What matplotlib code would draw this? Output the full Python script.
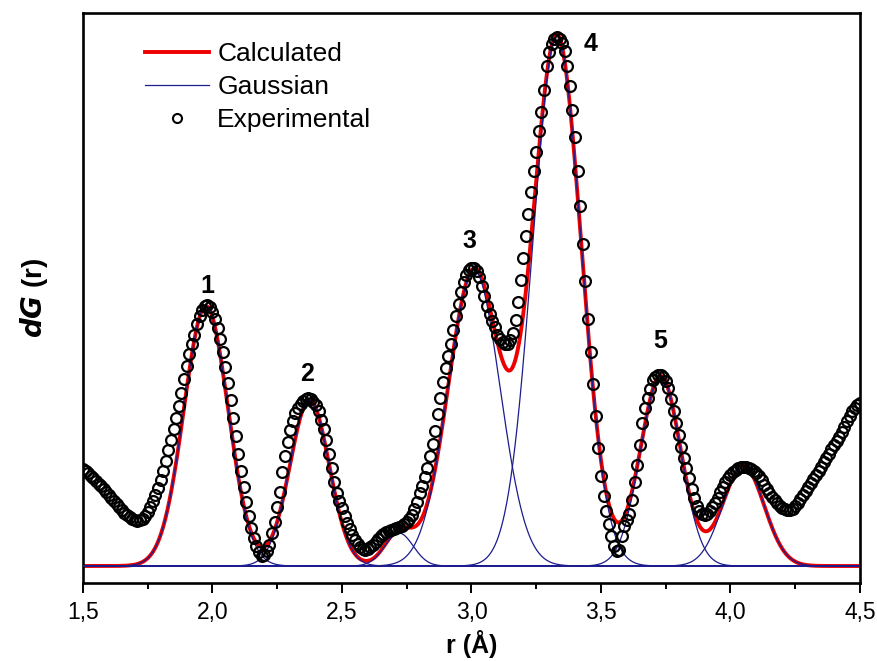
import numpy as np
import matplotlib.pyplot as plt
from matplotlib.ticker import MultipleLocator, FuncFormatter
from matplotlib.lines import Line2D

plt.rcParams['font.family'] = ['Liberation Sans', 'DejaVu Sans']

# Experimental dG(r), one value every 0.01 A from 1.50 to 4.50
exp_vals = [
    0.97, 0.95, 0.93, 0.90, 0.88, 0.85, 0.82, 0.80, 0.77, 0.74,
    0.71, 0.68, 0.65, 0.62, 0.59, 0.56, 0.53, 0.51, 0.49, 0.47,
    0.46, 0.45, 0.46, 0.47, 0.50, 0.54, 0.59, 0.65, 0.71, 0.78,
    0.86, 0.95, 1.05, 1.16, 1.26, 1.37, 1.48, 1.60, 1.73, 1.87,
    2.00, 2.12, 2.22, 2.31, 2.42, 2.50, 2.56, 2.60, 2.61, 2.59,
    2.54, 2.47, 2.38, 2.27, 2.14, 1.99, 1.83, 1.66, 1.48, 1.30,
    1.12, 0.95, 0.79, 0.64, 0.50, 0.38, 0.28, 0.20, 0.14, 0.10,
    0.11, 0.15, 0.21, 0.33, 0.44, 0.59, 0.74, 0.94, 1.10, 1.24,
    1.36, 1.45, 1.53, 1.58, 1.62, 1.65, 1.67, 1.68, 1.67, 1.64,
    1.61, 1.55, 1.46, 1.37, 1.26, 1.12, 0.98, 0.84, 0.73, 0.65,
    0.58, 0.50, 0.43, 0.37, 0.31, 0.26, 0.22, 0.19, 0.17, 0.16,
    0.17, 0.19, 0.21, 0.24, 0.27, 0.30, 0.32, 0.34, 0.35, 0.36,
    0.37, 0.38, 0.39, 0.40, 0.42, 0.44, 0.47, 0.51, 0.57, 0.64,
    0.73, 0.80, 0.89, 0.98, 1.10, 1.22, 1.35, 1.52, 1.68, 1.84,
    1.98, 2.10, 2.22, 2.36, 2.50, 2.62, 2.74, 2.84, 2.91, 2.96,
    2.98, 2.98, 2.95, 2.89, 2.80, 2.70, 2.60, 2.52, 2.45, 2.39,
    2.31, 2.27, 2.24, 2.22, 2.22, 2.26, 2.33, 2.46, 2.64, 2.86,
    3.08, 3.30, 3.52, 3.74, 3.95, 4.14, 4.35, 4.54, 4.76, 5.00,
    5.14, 5.22, 5.27, 5.29, 5.27, 5.23, 5.15, 5.00, 4.80, 4.56,
    4.29, 3.95, 3.60, 3.22, 2.85, 2.47, 2.14, 1.82, 1.50, 1.18,
    0.90, 0.70, 0.55, 0.42, 0.30, 0.20, 0.15, 0.16, 0.30, 0.40,
    0.46, 0.52, 0.66, 0.84, 1.01, 1.21, 1.43, 1.58, 1.68, 1.77,
    1.86, 1.89, 1.91, 1.91, 1.89, 1.85, 1.78, 1.67, 1.55, 1.43,
    1.31, 1.19, 1.08, 0.98, 0.88, 0.77, 0.68, 0.60, 0.55, 0.52,
    0.51, 0.52, 0.55, 0.59, 0.63, 0.68, 0.74, 0.79, 0.84, 0.88,
    0.91, 0.94, 0.96, 0.98, 0.99, 0.99, 0.99, 0.98, 0.97, 0.95,
    0.93, 0.90, 0.86, 0.81, 0.77, 0.73, 0.69, 0.66, 0.63, 0.60,
    0.58, 0.57, 0.56, 0.56, 0.57, 0.60, 0.63, 0.67, 0.71, 0.75,
    0.79, 0.83, 0.87, 0.91, 0.95, 0.99, 1.04, 1.08, 1.12, 1.17,
    1.21, 1.25, 1.29, 1.34, 1.39, 1.45, 1.50, 1.55, 1.58, 1.61,
    1.63,
]
r_exp = np.linspace(1.5, 4.5, len(exp_vals))

# Gaussian components of the fit (centre, height, width)
g_center = [1.975, 2.375, 2.72, 3.01, 3.33, 3.73, 4.05]
g_height = [2.60, 1.66, 0.33, 2.96, 5.30, 1.90, 1.00]
g_sigma = [0.085, 0.076, 0.055, 0.10, 0.094, 0.078, 0.08]

# peak labels
peak_names = ['1', '2', '3', '4', '5']
peak_x = [1.979, 2.365, 2.994, 3.458, 3.728]
peak_y = [2.80, 1.92, 3.25, 5.22, 2.25]

r = np.linspace(1.5, 4.5, 1501)
gauss = [h * np.exp(-(r - c) ** 2 / (2 * s ** 2))
         for c, h, s in zip(g_center, g_height, g_sigma)]
calc = np.sum(gauss, axis=0)

red = '#ee0000'
navy = '#1c1c8f'

fig = plt.figure(figsize=(8.77, 6.61), dpi=100)
ax = fig.add_axes([0.0946, 0.118, 0.8860, 0.8623])

ax.plot(r, calc, color=red, lw=2.8, zorder=2)
for g in gauss:
    ax.plot(r, g, color=navy, lw=0.9, zorder=3)
ax.plot(r_exp, exp_vals, 'o', mfc='none', mec='black', ms=7.8, mew=1.6, zorder=4)

for name, x, y in zip(peak_names, peak_x, peak_y):
    ax.text(x, y, name, fontsize=18, fontweight='bold', ha='center', va='center')

ax.set_xlim(1.5, 4.5)
ax.set_ylim(-0.17, 5.53)
ax.xaxis.set_major_locator(MultipleLocator(0.5))
ax.xaxis.set_minor_locator(MultipleLocator(0.25))
ax.xaxis.set_major_formatter(FuncFormatter(lambda v, p: ('%.1f' % v).replace('.', ',')))
ax.set_yticks([])
ax.tick_params(axis='x', which='major', direction='out', length=7, width=1.4,
               labelsize=16.5, pad=6)
ax.tick_params(axis='x', which='minor', direction='out', length=4.5, width=1.4)
for sp in ax.spines.values():
    sp.set_linewidth(1.9)

ax.set_xlabel('r (Å)', fontsize=18, fontweight='bold', labelpad=4)
ax.set_ylabel(r'$\mathbfit{dG}$ (r)', fontsize=20, fontweight='bold', labelpad=24)

handles = [Line2D([], [], color=red, lw=2.8),
           Line2D([], [], color=navy, lw=0.9),
           Line2D([], [], ls='none', marker='o', mfc='none', mec='black', ms=6.5, mew=1.5)]
ax.legend(handles, ['Calculated', 'Gaussian', 'Experimental'], loc='upper left',
          bbox_to_anchor=(0.049, 0.99), frameon=False, fontsize=19,
          handlelength=2.45, handletextpad=0.3, labelspacing=0.34)

fig.savefig('out.png', dpi=100)
